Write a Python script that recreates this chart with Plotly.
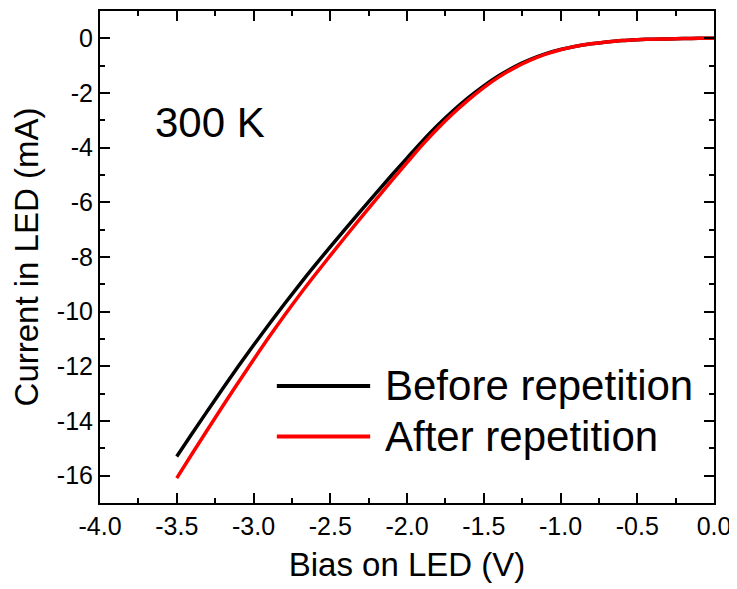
import plotly.graph_objects as go

bias_v = [-3.5, -3.4, -3.3, -3.2, -3.1, -3.0, -2.9, -2.8, -2.7, -2.6, -2.5, -2.4,
          -2.3, -2.2, -2.1, -2.0, -1.9, -1.8, -1.7, -1.6, -1.5, -1.4, -1.3, -1.2,
          -1.1, -1.0, -0.9, -0.8, -0.7, -0.6, -0.5, -0.4, -0.3, -0.2, -0.1, 0.0]

before_ma = [-15.30, -14.46, -13.63, -12.81, -12.01, -11.23, -10.47, -9.73, -9.01,
             -8.31, -7.63, -6.96, -6.30, -5.65, -5.01, -4.38, -3.76, -3.18, -2.65,
             -2.17, -1.74, -1.36, -1.04, -0.78, -0.57, -0.41, -0.29, -0.20, -0.13,
             -0.08, -0.05, -0.03, -0.02, -0.01, 0.0, 0.0]

after_ma = [-16.09, -15.20, -14.32, -13.45, -12.60, -11.76, -10.94, -10.15, -9.39,
            -8.66, -7.95, -7.25, -6.56, -5.88, -5.21, -4.55, -3.90, -3.30, -2.75,
            -2.25, -1.80, -1.41, -1.08, -0.81, -0.59, -0.42, -0.29, -0.20, -0.13,
            -0.08, -0.05, -0.03, -0.02, -0.01, 0.0, 0.0]

series_names = ["Before repetition", "After repetition"]
series_colors = ["#000000", "#ff0000"]

x_tick_vals = [-4.0, -3.5, -3.0, -2.5, -2.0, -1.5, -1.0, -0.5, 0.0]
x_tick_text = ["-4.0", "-3.5", "-3.0", "-2.5", "-2.0", "-1.5", "-1.0", "-0.5", "0.0"]
y_tick_vals = [0, -2, -4, -6, -8, -10, -12, -14, -16]
y_tick_text = ["0", "-2", "-4", "-6", "-8", "-10", "-12", "-14", "-16"]

FONT = "Liberation Sans, Arial, sans-serif"

fig = go.Figure()
for name, ys, col in zip(series_names, [before_ma, after_ma], series_colors):
    fig.add_trace(go.Scatter(x=bias_v, y=ys, mode="lines", name=name,
                             line=dict(color=col, width=3.5, shape="spline"),
                             showlegend=False))

axis_common = dict(
    showline=True, linecolor="black", linewidth=2, mirror="ticks",
    ticks="inside", ticklen=10, tickwidth=2, tickcolor="black",
    showgrid=False, zeroline=False,
    tickfont=dict(family=FONT, size=25, color="black"),
)

fig.update_xaxes(range=[-4.0, 0.0], tickmode="array", tickvals=x_tick_vals,
                 ticktext=x_tick_text,
                 minor=dict(ticks="inside", ticklen=5, tickwidth=2, tickcolor="black",
                            dtick=0.25, tick0=0, showgrid=False),
                 title=dict(text="Bias on LED (V)", font=dict(family=FONT, size=33, color="black"),
                            standoff=14),
                 **axis_common)
fig.update_yaxes(range=[-17, 1], tickmode="array", tickvals=y_tick_vals,
                 ticktext=y_tick_text,
                 minor=dict(ticks="inside", ticklen=5, tickwidth=2, tickcolor="black",
                            dtick=1, tick0=0, showgrid=False),
                 title=dict(text="Current in LED (mA)", font=dict(family=FONT, size=33, color="black"),
                            standoff=8),
                 **axis_common)

# Custom legend (long line samples as in the reference)
leg_y = [0.238, 0.135]
for name, col, yy in zip(series_names, series_colors, leg_y):
    fig.add_shape(type="line", xref="paper", yref="paper", x0=0.288, x1=0.44, y0=yy, y1=yy,
                  line=dict(color=col, width=4))
    fig.add_annotation(xref="paper", yref="paper", x=0.461, y=yy, text=name, showarrow=False,
                       xanchor="left", yanchor="middle",
                       font=dict(family=FONT, size=42, color="black"))

fig.add_annotation(xref="paper", yref="paper", x=0.179, y=0.774, text="300 K", showarrow=False,
                   xanchor="center", yanchor="middle",
                   font=dict(family=FONT, size=42, color="black"))

fig.update_layout(width=737, height=589, plot_bgcolor="white", paper_bgcolor="white",
                  margin=dict(l=92, r=31, t=1, b=94))

fig.write_html("out.html")
